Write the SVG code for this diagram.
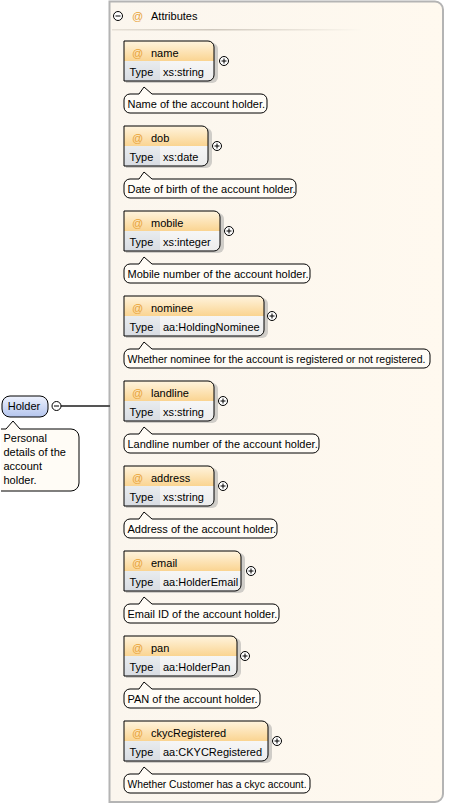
<svg xmlns="http://www.w3.org/2000/svg" width="462" height="805" viewBox="0 0 462 805">
<defs>
<linearGradient id="hdr" x1="0" y1="0" x2="0" y2="1"><stop offset="0" stop-color="#fff4de"/><stop offset="1" stop-color="#fad491"/></linearGradient>
<linearGradient id="tcell" x1="0" y1="0" x2="0" y2="1"><stop offset="0" stop-color="#e9ecef"/><stop offset="1" stop-color="#d8dce2"/></linearGradient>
<linearGradient id="vcell" x1="0" y1="0" x2="0" y2="1"><stop offset="0" stop-color="#f6f6f6"/><stop offset="1" stop-color="#ececec"/></linearGradient>
<linearGradient id="hold" x1="0" y1="0" x2="0" y2="1"><stop offset="0" stop-color="#eef2fd"/><stop offset="1" stop-color="#b4c5ee"/></linearGradient>
<linearGradient id="cont" x1="0" y1="0" x2="1" y2="0"><stop offset="0" stop-color="#fbf6ee"/><stop offset="1" stop-color="#fff9ef"/></linearGradient>
<linearGradient id="uline" x1="0" y1="0" x2="1" y2="0"><stop offset="0" stop-color="#e6e0d6"/><stop offset="0.4" stop-color="#cfc8bd"/><stop offset="1" stop-color="#fdf8ef"/></linearGradient>
<g id="plus"><circle r="4.5" fill="#fff" stroke="#000" stroke-width="1"/><path d="M-2.5,0H2.5M0,-2.5V2.5" stroke="#000" stroke-width="1"/></g>
<g id="minus"><circle r="4.5" fill="#fff" stroke="#000" stroke-width="1"/><path d="M-2.5,0H2.5" stroke="#000" stroke-width="1"/></g>
</defs>
<style>
text{font-family:"Liberation Sans",Arial,sans-serif;font-size:11px;fill:#000}
.at{fill:#e8a237}
.box{fill:none;stroke:#000;stroke-width:1}
.shadow{fill:#9a9a9a;opacity:0.45}
.doc{fill:#fffcf6;stroke:#000;stroke-width:1}
</style>
<rect width="462" height="805" fill="#ffffff"/>
<g id="container">
<path d="M109.5,1.5 H435 A8,8 0 0 1 443,9.5 V794 A8,8 0 0 1 435,802 H109.5 Z" fill="url(#cont)" stroke="#b4b4b4" stroke-width="2"/>
<use href="#minus" x="118" y="16"/>
<text x="132" y="20" class="at">@</text>
<text x="151" y="20">Attributes</text>
<rect x="112" y="29" width="250" height="1.5" fill="url(#uline)"/>
</g>
<g id="connectors">
<line x1="61" y1="406" x2="110" y2="406" stroke="#555" stroke-width="2"/>
</g>
<g id="holder">
<rect x="2" y="396" width="46" height="21" rx="8" fill="url(#hold)" stroke="#000" stroke-width="1"/>
<text x="24" y="410" text-anchor="middle">Holder</text>
<use href="#minus" x="56.5" y="406"/>
<path d="M1,429 H6 L13,421 L20,429 H71 A8,8 0 0 1 79,437 V483 A8,8 0 0 1 71,491 H1" class="doc"/>
<text x="3.5" y="442">Personal</text>
<text x="3.5" y="456">details of the</text>
<text x="3.5" y="470">account</text>
<text x="3.5" y="484">holder.</text>
</g>
<g id="attr-name" transform="translate(0,41)">
<path d="M126,2 H212 A6,6 0 0 1 218,8 V36 A6,6 0 0 1 212,42 H126 Z" class="shadow"/>
<path d="M124,0 H208 A6,6 0 0 1 214,6 V20 H124 Z" fill="url(#hdr)"/>
<rect x="124" y="20" width="36" height="20" fill="url(#tcell)"/>
<path d="M160,20 H214 V34 A6,6 0 0 1 208,40 H160 Z" fill="url(#vcell)"/>
<path d="M124,0 H208 A6,6 0 0 1 214,6 V34 A6,6 0 0 1 208,40 H124 Z" class="box"/>
<text x="132" y="16" class="at">@</text><text x="151" y="16">name</text>
<text x="129.5" y="35">Type</text><text x="163" y="35">xs:string</text>
<use href="#plus" x="224" y="20"/>
<path d="M130,53 H139 L144,46 L152,53 H261 A6,6 0 0 1 267,59 V66 A6,6 0 0 1 261,72 H130 A6,6 0 0 1 124,66 V59 A6,6 0 0 1 130,53 Z" class="doc"/>
<text x="127.5" y="67">Name of the account holder.</text>
</g>
<g id="attr-dob" transform="translate(0,126)">
<path d="M126,2 H206 A6,6 0 0 1 212,8 V36 A6,6 0 0 1 206,42 H126 Z" class="shadow"/>
<path d="M124,0 H202 A6,6 0 0 1 208,6 V20 H124 Z" fill="url(#hdr)"/>
<rect x="124" y="20" width="36" height="20" fill="url(#tcell)"/>
<path d="M160,20 H208 V34 A6,6 0 0 1 202,40 H160 Z" fill="url(#vcell)"/>
<path d="M124,0 H202 A6,6 0 0 1 208,6 V34 A6,6 0 0 1 202,40 H124 Z" class="box"/>
<text x="132" y="16" class="at">@</text><text x="151" y="16">dob</text>
<text x="129.5" y="35">Type</text><text x="163" y="35">xs:date</text>
<use href="#plus" x="217" y="20"/>
<path d="M130,53 H139 L144,46 L152,53 H290 A6,6 0 0 1 296,59 V66 A6,6 0 0 1 290,72 H130 A6,6 0 0 1 124,66 V59 A6,6 0 0 1 130,53 Z" class="doc"/>
<text x="127.5" y="67">Date of birth of the account holder.</text>
</g>
<g id="attr-mobile" transform="translate(0,211)">
<path d="M126,2 H218 A6,6 0 0 1 224,8 V36 A6,6 0 0 1 218,42 H126 Z" class="shadow"/>
<path d="M124,0 H214 A6,6 0 0 1 220,6 V20 H124 Z" fill="url(#hdr)"/>
<rect x="124" y="20" width="36" height="20" fill="url(#tcell)"/>
<path d="M160,20 H220 V34 A6,6 0 0 1 214,40 H160 Z" fill="url(#vcell)"/>
<path d="M124,0 H214 A6,6 0 0 1 220,6 V34 A6,6 0 0 1 214,40 H124 Z" class="box"/>
<text x="132" y="16" class="at">@</text><text x="151" y="16">mobile</text>
<text x="129.5" y="35">Type</text><text x="163" y="35">xs:integer</text>
<use href="#plus" x="229" y="20"/>
<path d="M130,53 H139 L144,46 L152,53 H304 A6,6 0 0 1 310,59 V66 A6,6 0 0 1 304,72 H130 A6,6 0 0 1 124,66 V59 A6,6 0 0 1 130,53 Z" class="doc"/>
<text x="127.5" y="67">Mobile number of the account holder.</text>
</g>
<g id="attr-nominee" transform="translate(0,296)">
<path d="M126,2 H262 A6,6 0 0 1 268,8 V36 A6,6 0 0 1 262,42 H126 Z" class="shadow"/>
<path d="M124,0 H258 A6,6 0 0 1 264,6 V20 H124 Z" fill="url(#hdr)"/>
<rect x="124" y="20" width="36" height="20" fill="url(#tcell)"/>
<path d="M160,20 H264 V34 A6,6 0 0 1 258,40 H160 Z" fill="url(#vcell)"/>
<path d="M124,0 H258 A6,6 0 0 1 264,6 V34 A6,6 0 0 1 258,40 H124 Z" class="box"/>
<text x="132" y="16" class="at">@</text><text x="151" y="16">nominee</text>
<text x="129.5" y="35">Type</text><text x="163" y="35">aa:HoldingNominee</text>
<use href="#plus" x="272" y="20"/>
<path d="M130,53 H139 L144,46 L152,53 H424 A6,6 0 0 1 430,59 V66 A6,6 0 0 1 424,72 H130 A6,6 0 0 1 124,66 V59 A6,6 0 0 1 130,53 Z" class="doc"/>
<text x="127.5" y="67" textLength="298" lengthAdjust="spacingAndGlyphs">Whether nominee for the account is registered or not registered.</text>
</g>
<g id="attr-landline" transform="translate(0,381)">
<path d="M126,2 H212 A6,6 0 0 1 218,8 V36 A6,6 0 0 1 212,42 H126 Z" class="shadow"/>
<path d="M124,0 H208 A6,6 0 0 1 214,6 V20 H124 Z" fill="url(#hdr)"/>
<rect x="124" y="20" width="36" height="20" fill="url(#tcell)"/>
<path d="M160,20 H214 V34 A6,6 0 0 1 208,40 H160 Z" fill="url(#vcell)"/>
<path d="M124,0 H208 A6,6 0 0 1 214,6 V34 A6,6 0 0 1 208,40 H124 Z" class="box"/>
<text x="132" y="16" class="at">@</text><text x="151" y="16">landline</text>
<text x="129.5" y="35">Type</text><text x="163" y="35">xs:string</text>
<use href="#plus" x="223" y="20"/>
<path d="M130,53 H139 L144,46 L152,53 H313 A6,6 0 0 1 319,59 V66 A6,6 0 0 1 313,72 H130 A6,6 0 0 1 124,66 V59 A6,6 0 0 1 130,53 Z" class="doc"/>
<text x="127.5" y="67">Landline number of the account holder.</text>
</g>
<g id="attr-address" transform="translate(0,466)">
<path d="M126,2 H212 A6,6 0 0 1 218,8 V36 A6,6 0 0 1 212,42 H126 Z" class="shadow"/>
<path d="M124,0 H208 A6,6 0 0 1 214,6 V20 H124 Z" fill="url(#hdr)"/>
<rect x="124" y="20" width="36" height="20" fill="url(#tcell)"/>
<path d="M160,20 H214 V34 A6,6 0 0 1 208,40 H160 Z" fill="url(#vcell)"/>
<path d="M124,0 H208 A6,6 0 0 1 214,6 V34 A6,6 0 0 1 208,40 H124 Z" class="box"/>
<text x="132" y="16" class="at">@</text><text x="151" y="16">address</text>
<text x="129.5" y="35">Type</text><text x="163" y="35">xs:string</text>
<use href="#plus" x="223" y="20"/>
<path d="M130,53 H139 L144,46 L152,53 H271 A6,6 0 0 1 277,59 V66 A6,6 0 0 1 271,72 H130 A6,6 0 0 1 124,66 V59 A6,6 0 0 1 130,53 Z" class="doc"/>
<text x="127.5" y="67">Address of the account holder.</text>
</g>
<g id="attr-email" transform="translate(0,551)">
<path d="M126,2 H239 A6,6 0 0 1 245,8 V36 A6,6 0 0 1 239,42 H126 Z" class="shadow"/>
<path d="M124,0 H235 A6,6 0 0 1 241,6 V20 H124 Z" fill="url(#hdr)"/>
<rect x="124" y="20" width="36" height="20" fill="url(#tcell)"/>
<path d="M160,20 H241 V34 A6,6 0 0 1 235,40 H160 Z" fill="url(#vcell)"/>
<path d="M124,0 H235 A6,6 0 0 1 241,6 V34 A6,6 0 0 1 235,40 H124 Z" class="box"/>
<text x="132" y="16" class="at">@</text><text x="151" y="16">email</text>
<text x="129.5" y="35">Type</text><text x="163" y="35">aa:HolderEmail</text>
<use href="#plus" x="251" y="20"/>
<path d="M130,53 H139 L144,46 L152,53 H273 A6,6 0 0 1 279,59 V66 A6,6 0 0 1 273,72 H130 A6,6 0 0 1 124,66 V59 A6,6 0 0 1 130,53 Z" class="doc"/>
<text x="127.5" y="67">Email ID of the account holder.</text>
</g>
<g id="attr-pan" transform="translate(0,636)">
<path d="M126,2 H235 A6,6 0 0 1 241,8 V36 A6,6 0 0 1 235,42 H126 Z" class="shadow"/>
<path d="M124,0 H231 A6,6 0 0 1 237,6 V20 H124 Z" fill="url(#hdr)"/>
<rect x="124" y="20" width="36" height="20" fill="url(#tcell)"/>
<path d="M160,20 H237 V34 A6,6 0 0 1 231,40 H160 Z" fill="url(#vcell)"/>
<path d="M124,0 H231 A6,6 0 0 1 237,6 V34 A6,6 0 0 1 231,40 H124 Z" class="box"/>
<text x="132" y="16" class="at">@</text><text x="151" y="16">pan</text>
<text x="129.5" y="35">Type</text><text x="163" y="35">aa:HolderPan</text>
<use href="#plus" x="245" y="20"/>
<path d="M130,53 H139 L144,46 L152,53 H254 A6,6 0 0 1 260,59 V66 A6,6 0 0 1 254,72 H130 A6,6 0 0 1 124,66 V59 A6,6 0 0 1 130,53 Z" class="doc"/>
<text x="127.5" y="67">PAN of the account holder.</text>
</g>
<g id="attr-ckycRegistered" transform="translate(0,721)">
<path d="M126,2 H266 A6,6 0 0 1 272,8 V36 A6,6 0 0 1 266,42 H126 Z" class="shadow"/>
<path d="M124,0 H262 A6,6 0 0 1 268,6 V20 H124 Z" fill="url(#hdr)"/>
<rect x="124" y="20" width="36" height="20" fill="url(#tcell)"/>
<path d="M160,20 H268 V34 A6,6 0 0 1 262,40 H160 Z" fill="url(#vcell)"/>
<path d="M124,0 H262 A6,6 0 0 1 268,6 V34 A6,6 0 0 1 262,40 H124 Z" class="box"/>
<text x="132" y="16" class="at">@</text><text x="151" y="16">ckycRegistered</text>
<text x="129.5" y="35">Type</text><text x="163" y="35">aa:CKYCRegistered</text>
<use href="#plus" x="277" y="20"/>
<path d="M130,53 H139 L144,46 L152,53 H304 A6,6 0 0 1 310,59 V66 A6,6 0 0 1 304,72 H130 A6,6 0 0 1 124,66 V59 A6,6 0 0 1 130,53 Z" class="doc"/>
<text x="127.5" y="67" textLength="179" lengthAdjust="spacingAndGlyphs">Whether Customer has a ckyc account.</text>
</g>
</svg>
